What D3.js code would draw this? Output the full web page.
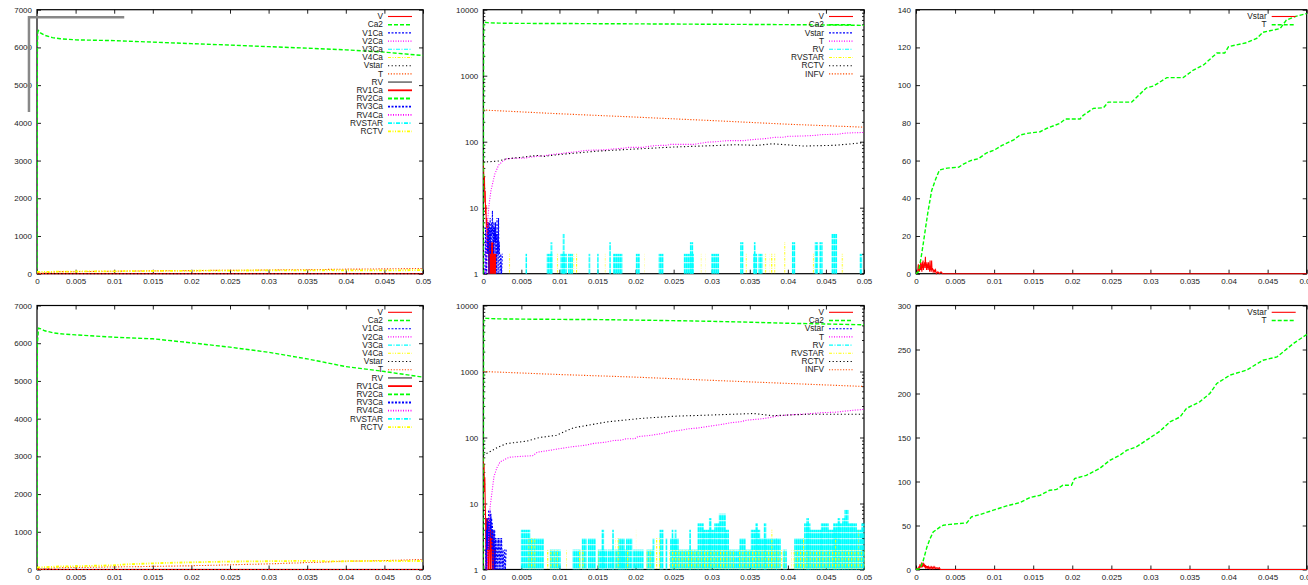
<!DOCTYPE html>
<html>
<head>
<meta charset="utf-8">
<script src="https://cdn.jsdelivr.net/npm/d3@7"></script>
<style>
  body { margin: 0; background: #fff; }
  svg { display: block; font-family: "Liberation Sans", Arial, sans-serif; }
</style>
</head>
<body>
<svg id="chart" width="1308" height="585"></svg>
<script>
// ---- tick labels ----
const xTickValues = [0, 0.005, 0.01, 0.015, 0.02, 0.025, 0.03, 0.035, 0.04, 0.045, 0.05];
const xTickLabels = ["0", "0.005", "0.01", "0.015", "0.02", "0.025", "0.03", "0.035", "0.04", "0.045", "0.05"];
const ticks7000 = [0, 1000, 2000, 3000, 4000, 5000, 6000, 7000];
const ticks140 = [0, 20, 40, 60, 80, 100, 120, 140];
const ticks300 = [0, 50, 100, 150, 200, 250, 300];
const logTicks = [1, 10, 100, 1000, 10000];
const logTickLabels = ["1", "10", "100", "1000", "10000"];

// ---- legend entries (gnuplot line order) ----
const legendFull = ["V", "Ca2", "V1Ca", "V2Ca", "V3Ca", "V4Ca", "Vstar", "T", "RV",
  "RV1Ca", "RV2Ca", "RV3Ca", "RV4Ca", "RVSTAR", "RCTV"];
const legendLog = ["V", "Ca2", "Vstar", "T", "RV", "RVSTAR", "RCTV", "INFV"];
const legendCount = ["Vstar", "T"];

// ---- run 1 (top row) ----
const ca2Run1 = [[0,1],[0.00005,6000],[0.0001,6400],[0.0002,6450],[0.0005,6380],[0.001,6320],[0.002,6260],
  [0.003,6230],[0.005,6200],[0.01,6180],[0.015,6140],[0.02,6100],[0.025,6062],[0.03,6020],[0.035,5980],
  [0.04,5935],[0.045,5875],[0.05,5785]];
const tRun1 = [[0,0],[0.0003,1],[0.0005,5],[0.00075,11],[0.001,18],[0.0015,32],[0.002,44],[0.0025,50],
  [0.003,55],[0.004,56],[0.0055,56.5],[0.006,58],[0.007,60],[0.008,61],[0.009,64],[0.01,65.5],[0.011,68],
  [0.0125,71],[0.0133,73.5],[0.0142,74.4],[0.0159,75.3],[0.0167,77],[0.0184,79.7],[0.0191,82],[0.021,82],
  [0.0214,84],[0.0227,87.7],[0.024,88],[0.0246,91],[0.0276,91],[0.0295,98.6],[0.0304,99.5],[0.0321,104],
  [0.0342,104],[0.0355,108],[0.0368,110.7],[0.0385,117],[0.0395,117],[0.04,120.4],[0.0423,122.5],
  [0.0436,124.8],[0.0444,128],[0.0466,130],[0.0474,134.5],[0.0485,136.3],[0.05,138]];
const rctvRun1 = [[0,49],[0.002,51],[0.003,55],[0.005,58],[0.007,62],[0.008,60],[0.01,64],[0.015,72],
  [0.02,77.5],[0.025,83],[0.03,87],[0.033,90],[0.036,88],[0.038,93],[0.042,86],[0.046,88],[0.048,92],[0.05,97]];
const infvRun1 = [[0,302],[0.01,265],[0.02,236],[0.03,209],[0.04,184],[0.05,166]];
const vRun1 = [[0,50],[0.00005,35],[0.0001,20],[0.00015,30],[0.0002,12],[0.00025,18],[0.0003,8],[0.00035,11],
  [0.0004,5],[0.00045,7],[0.0005,3],[0.00055,6],[0.0006,2],[0.00065,6],[0.0007,1],[0.00075,3],[0.0008,1],
  [0.00085,3],[0.0009,1],[0.00095,3],[0.001,1],[0.00105,3],[0.0011,1],[0.00115,3],[0.0012,1],[0.00125,3],
  [0.0013,1],[0.00135,3],[0.0014,1],[0.00145,2],[0.0015,1],[0.00155,2],[0.0016,1],[0.0017,2],[0.0018,0],[0.05,0]];
const vstarRun1 = [[0,0],[0.0002,1],[0.0003,5],[0.00035,1],[0.0004,3],[0.00045,1],[0.0005,4],[0.00055,2],
  [0.0006,6],[0.00065,2],[0.0007,5],[0.00075,1],[0.0008,6],[0.00085,3],[0.0009,7],[0.00095,2],[0.001,5],
  [0.00105,3],[0.0011,6],[0.00115,4],[0.0012,9],[0.00125,3],[0.0013,5],[0.00135,2],[0.0014,6],[0.00145,3],
  [0.0015,5],[0.00155,2],[0.0016,6],[0.00165,3],[0.0017,4],[0.00175,1],[0.0018,7],[0.00185,2],[0.0019,4],
  [0.00195,1],[0.002,7],[0.00205,2],[0.0021,3],[0.0022,1],[0.0023,2],[0.0024,1],[0.0025,2],[0.0026,0],
  [0.0028,1],[0.003,0],[0.0032,1],[0.0034,0],[0.05,0]];
// spike clusters: [xStart, xEnd, height]
const rvRun1 = [[0.0056,0.0056,2],[0.0084,0.009,2],[0.0089,0.009,3],[0.0102,0.0109,2],[0.0105,0.0106,4],
  [0.0112,0.0117,2],[0.0139,0.0139,2],[0.015,0.015,2],[0.0166,0.0166,3],[0.0171,0.0182,2],[0.0201,0.0205,2],
  [0.0231,0.0236,2],[0.0264,0.0276,2],[0.0272,0.0275,3],[0.03,0.0309,2],[0.0338,0.0341,3],[0.0355,0.0359,2],
  [0.0356,0.0357,3],[0.0362,0.0366,2],[0.0406,0.0409,3],[0.0436,0.0439,3],[0.0442,0.0445,3],
  [0.0458,0.0464,4],[0.0495,0.0497,2]];
const rvstarRun1 = [[0.0034,0.0034,2],[0.0097,0.0098,2],[0.0119,0.0123,2],[0.0159,0.0159,2],[0.0212,0.0212,2],
  [0.0285,0.0285,2],[0.0292,0.0293,2],[0.0345,0.0345,2],[0.0368,0.0372,2],[0.0376,0.0383,2],
  [0.0396,0.0396,3],[0.0433,0.0433,2],[0.0471,0.0473,2]];
const rvGlitch = [[-0.00104,4290],[-0.00104,6800],[0.0113,6800]];

// ---- run 2 (bottom row) ----
const ca2Run2 = [[0,1],[0.00005,6000],[0.0002,6400],[0.0005,6380],[0.001,6330],[0.002,6280],[0.003,6250],
  [0.005,6220],[0.01,6160],[0.015,6117],[0.02,6010],[0.025,5895],[0.03,5760],[0.035,5585],[0.04,5380],
  [0.045,5250],[0.05,5100]];
const tRun2 = [[0,0],[0.0005,1],[0.00088,8.6],[0.0014,25.6],[0.0018,35],[0.0022,42.6],[0.0031,48.4],
  [0.0035,50.3],[0.0046,51.5],[0.0065,53],[0.0071,59.8],[0.0082,62.5],[0.0099,67.4],[0.0116,72.3],
  [0.0133,76],[0.0146,81.8],[0.0159,84.4],[0.0171,90],[0.018,91],[0.0188,95.8],[0.0199,95.8],[0.0203,103.4],
  [0.0218,107],[0.0235,114.8],[0.0248,124],[0.0261,130],[0.027,135.6],[0.0282,139.3],[0.0295,147],
  [0.0312,157],[0.0325,167.7],[0.0338,173.4],[0.0346,183],[0.0363,190.5],[0.0376,200],[0.0385,211.4],
  [0.0402,221],[0.0423,226.5],[0.0444,237.8],[0.0462,241.6],[0.0483,256.8],[0.05,267]];
const rctvRun2 = [[0,54],[0.001,62],[0.002,72],[0.0031,81],[0.0057,88],[0.0074,100],[0.0096,108],
  [0.0118,140],[0.0162,172],[0.0206,194],[0.025,210],[0.0293,218],[0.0355,231],[0.038,214],[0.0425,225],
  [0.05,225]];
const infvRun2 = [[0,1000],[0.01,900],[0.02,822],[0.03,735],[0.04,660],[0.05,593]];
const vRun2 = [[0,50],[0.00005,30],[0.0001,40],[0.00015,15],[0.0002,25],[0.00025,10],[0.0003,6],[0.00035,1],
  [0.0004,6],[0.00045,1],[0.0005,6],[0.00055,2],[0.0006,6],[0.00065,1],[0.0007,5],[0.00075,1],[0.0008,4],
  [0.00085,2],[0.0009,4],[0.00095,1],[0.001,4],[0.00105,2],[0.0011,3],[0.00115,1],[0.0012,4],[0.00125,1],
  [0.0013,3],[0.00135,1],[0.0014,2],[0.0015,1],[0.0016,2],[0.0017,0],[0.05,0]];
const vstarRun2 = [[0,0],[0.0003,2],[0.00035,1],[0.0004,4],[0.00045,1],[0.0005,6],[0.00055,2],[0.0006,5],
  [0.00065,3],[0.0007,8],[0.00075,2],[0.0008,6],[0.00085,3],[0.0009,8],[0.00095,4],[0.001,7],[0.00105,3],
  [0.0011,6],[0.00115,2],[0.0012,5],[0.00125,1],[0.0013,4],[0.00135,2],[0.0014,4],[0.00145,1],[0.0015,4],
  [0.00155,1],[0.0016,3],[0.0017,1],[0.0018,3],[0.0019,1],[0.002,3],[0.0021,1],[0.0022,3],[0.0023,1],
  [0.0024,3],[0.0025,1],[0.0026,2],[0.0027,1],[0.0028,2],[0.0029,1],[0.003,2],[0.0031,0],[0.05,0]];
const rvRun2 = [[0.005,0.0061,4],[0.0061,0.0079,3],[0.0088,0.0101,2],[0.0118,0.0127,2],[0.013,0.0135,3],
  [0.0138,0.0147,3],[0.0151,0.0162,2],[0.0156,0.0158,4],[0.0164,0.0171,2],[0.017,0.0171,4],[0.0173,0.0188,2],
  [0.0178,0.0185,3],[0.0188,0.0195,3],[0.0197,0.021,2],[0.0215,0.0223,2],[0.0223,0.0224,3],[0.0232,0.0236,4],
  [0.024,0.0241,3],[0.0246,0.0256,3],[0.0248,0.0249,4],[0.0252,0.0253,4],[0.0256,0.0271,2],[0.0271,0.0272,4],
  [0.0272,0.0282,2],[0.0282,0.0289,5],[0.0289,0.0297,4],[0.0297,0.0299,6],[0.0299,0.0304,4],[0.0304,0.031,5],
  [0.031,0.0318,7],[0.0318,0.0322,4],[0.0322,0.0337,2],[0.0337,0.0344,3],[0.0344,0.0352,2],[0.0352,0.0363,4],
  [0.0358,0.036,5],[0.0363,0.037,3],[0.0369,0.0371,5],[0.0371,0.0385,3],[0.0385,0.039,3],[0.0394,0.0398,2],
  [0.0409,0.042,3],[0.0422,0.0429,5],[0.0425,0.0427,6],[0.0429,0.0444,4],[0.0444,0.0453,5],[0.0453,0.0464,4],
  [0.046,0.0472,5],[0.0466,0.0468,6],[0.0472,0.0475,6],[0.0475,0.0479,8],[0.0479,0.0484,5],[0.0484,0.049,5],
  [0.049,0.0497,4],[0.0497,0.05,5]];
const rvstarRun2 = [[0.006,0.0068,3],[0.0084,0.009,2],[0.0093,0.0098,2],[0.0108,0.0109,2],[0.0126,0.0133,2],
  [0.015,0.0151,2],[0.0174,0.018,3],[0.0187,0.0192,2],[0.02,0.0201,4],[0.0215,0.0222,2],[0.0226,0.0232,3],
  [0.0245,0.033,2],[0.0336,0.0395,2],[0.0379,0.038,4],[0.0405,0.05,2],[0.042,0.0421,3],[0.0462,0.0463,3],
  [0.0493,0.0494,4]];

// ---- gnuplot line styles by index ----
const palette = ["#ff0000", "#00ff00", "#0000ff", "#ff00ff", "#00ffff", "#ffff00", "#000000", "#ff4d00", "#808080"];
const dashes = [null, "4,2", "2,1.5", "1,1.5", "4,1.5,1,1.5", "3,1.5,1,1.5,1,1.5", "1.2,2.4", "1.2,1.6", null];
function styleOf(i) {
  return { color: palette[i % 9], dash: dashes[i % 9], width: i >= 8 ? 1.8 : (i % 9 === 1 ? 1.4 : 1.1) };
}

const cols = [{ l: 37, r: 423 }, { l: 483.3, r: 864 }, { l: 916, r: 1306.7 }];
const rows = [{ t: 9.7, b: 273.7 }, { t: 305.5, b: 569.5 }];

const panels = [
  { col: 0, row: 0, log: false, dom: [0, 7000], ticks: ticks7000, legend: legendFull, glitch: rvGlitch,
    lines: [["V", vRun1], ["Ca2", ca2Run1], ["Vstar", vstarRun1], ["T", tRun1], ["RCTV", rctvRun1]], spikes: [] },
  { col: 1, row: 0, log: true, dom: [1, 10000], ticks: logTicks, legend: legendLog,
    lines: [["V", vRun1], ["Ca2", ca2Run1], ["Vstar", vstarRun1], ["T", tRun1], ["RCTV", rctvRun1], ["INFV", infvRun1]],
    spikes: [["RV", rvRun1], ["RVSTAR", rvstarRun1]] },
  { col: 2, row: 0, log: false, dom: [0, 140], ticks: ticks140, legend: legendCount,
    lines: [["Vstar", vstarRun1], ["T", tRun1]], spikes: [] },
  { col: 0, row: 1, log: false, dom: [0, 7000], ticks: ticks7000, legend: legendFull,
    lines: [["V", vRun2], ["Ca2", ca2Run2], ["Vstar", vstarRun2], ["T", tRun2], ["RCTV", rctvRun2]], spikes: [] },
  { col: 1, row: 1, log: true, dom: [1, 10000], ticks: logTicks, legend: legendLog,
    lines: [["V", vRun2], ["Ca2", ca2Run2], ["Vstar", vstarRun2], ["T", tRun2], ["RCTV", rctvRun2], ["INFV", infvRun2]],
    spikes: [["RV", rvRun2], ["RVSTAR", rvstarRun2]] },
  { col: 2, row: 1, log: false, dom: [0, 300], ticks: ticks300, legend: legendCount,
    lines: [["Vstar", vstarRun2], ["T", tRun2]], spikes: [] }
];

const svg = d3.select("#chart");
const defs = svg.append("defs");

// dashed vertical-stroke fill for the spike clusters
const patternFor = {};
function getPattern(color) {
  if (patternFor[color]) return patternFor[color];
  const id = "pat" + color.slice(1);
  const sparse = color === "#ffff00";
  const p = defs.append("pattern").attr("id", id).attr("patternUnits", "userSpaceOnUse")
    .attr("width", sparse ? 3.2 : 2).attr("height", 6);
  p.append("rect").attr("x", 0).attr("y", 0).attr("width", sparse ? 1.1 : 1.8)
    .attr("height", sparse ? 2.6 : 4.3).attr("fill", color);
  p.append("rect").attr("x", 0).attr("y", sparse ? 3.8 : 5).attr("width", sparse ? 1.1 : 1.8)
    .attr("height", 0.8).attr("fill", color);
  patternFor[color] = "url(#" + id + ")";
  return patternFor[color];
}

panels.forEach((pn, k) => {
  const c = cols[pn.col], r = rows[pn.row];
  const x = d3.scaleLinear().domain([0, 0.05]).range([c.l, c.r]);
  const y = (pn.log ? d3.scaleLog() : d3.scaleLinear()).domain(pn.dom).range([r.b, r.t]);
  const g = svg.append("g");

  // axes, gnuplot-style inward ticks on all sides
  const fmtX = (d, i) => xTickLabels[i];
  const ax = [
    g.append("g").attr("transform", `translate(0,${r.b})`)
      .call(d3.axisBottom(x).tickValues(xTickValues).tickFormat(fmtX).tickSize(-4).tickPadding(5)),
    g.append("g").attr("transform", `translate(0,${r.t})`)
      .call(d3.axisTop(x).tickValues(xTickValues).tickFormat("").tickSize(-4)),
    g.append("g").attr("transform", `translate(${c.l},0)`)
      .call(d3.axisLeft(y).tickValues(pn.ticks)
        .tickFormat((d, i) => pn.log ? logTickLabels[i] : String(d)).tickSize(-4).tickPadding(5)),
    g.append("g").attr("transform", `translate(${c.r},0)`)
      .call(d3.axisRight(y).tickValues(pn.ticks).tickFormat("").tickSize(-4))
  ];
  if (pn.log) {
    const minor = [];
    [1, 10, 100, 1000].forEach(dec => [2, 3, 4, 5, 6, 7, 8, 9].forEach(m => minor.push(dec * m)));
    ax.push(g.append("g").attr("transform", `translate(${c.l},0)`)
      .call(d3.axisLeft(y).tickValues(minor).tickFormat("").tickSize(-2)));
    ax.push(g.append("g").attr("transform", `translate(${c.r},0)`)
      .call(d3.axisRight(y).tickValues(minor).tickFormat("").tickSize(-2)));
  }
  ax.forEach(a => {
    a.attr("font-size", 8).attr("font-family", null).attr("color", "#222");
    a.select(".domain").remove();
  });

  g.append("rect").attr("x", c.l).attr("y", r.t).attr("width", c.r - c.l).attr("height", r.b - r.t)
    .attr("fill", "none").attr("stroke", "#000").attr("stroke-width", 1.2);

  const clipId = "clip" + k;
  defs.append("clipPath").attr("id", clipId).append("rect")
    .attr("x", c.l).attr("y", r.t - 1).attr("width", c.r - c.l + 1).attr("height", r.b - r.t + 2);
  const plot = g.append("g").attr("clip-path", `url(#${clipId})`);

  const line = d3.line().x(d => x(d[0])).y(d => y(d[1]));
  if (pn.log) line.defined(d => d[1] >= 1);

  // draw in legend order so overlaps stack like gnuplot
  pn.legend.forEach((name, i) => {
    const s = styleOf(i);
    const ln = pn.lines.find(e => e[0] === name);
    const sp = pn.spikes.find(e => e[0] === name);
    if (ln) {
      plot.append("path").datum(ln[1]).attr("d", line).attr("fill", "none")
        .attr("stroke", s.color).attr("stroke-width", s.width)
        .attr("stroke-dasharray", s.dash);
    }
    if (sp) {
      plot.selectAll(null).data(sp[1]).enter().append("rect")
        .attr("x", d => x(d[0]) - 0.5)
        .attr("width", d => Math.max(x(d[1]) - x(d[0]) + 1, 1.6))
        .attr("y", d => y(d[2]))
        .attr("height", d => y(1) - y(d[2]))
        .attr("fill", getPattern(s.color));
    }
  });

  if (pn.glitch) {
    g.append("path").datum(pn.glitch).attr("d", d3.line().x(d => x(d[0])).y(d => y(d[1])))
      .attr("fill", "none").attr("stroke", "#888").attr("stroke-width", 2.5);
  }

  // key, top right inside the plot
  const key = g.append("g").attr("font-size", 8.3).attr("fill", "#222");
  pn.legend.forEach((name, i) => {
    const s = styleOf(i);
    const ky = r.t + 6.8 + i * 8.2;
    key.append("text").attr("x", c.r - 40).attr("y", ky).attr("dy", "0.33em")
      .attr("text-anchor", "end").text(name);
    key.append("line").attr("x1", c.r - 35).attr("x2", c.r - 11).attr("y1", ky).attr("y2", ky)
      .attr("stroke", s.color).attr("stroke-width", s.width).attr("stroke-dasharray", s.dash);
  });
});
</script>
</body>
</html>
